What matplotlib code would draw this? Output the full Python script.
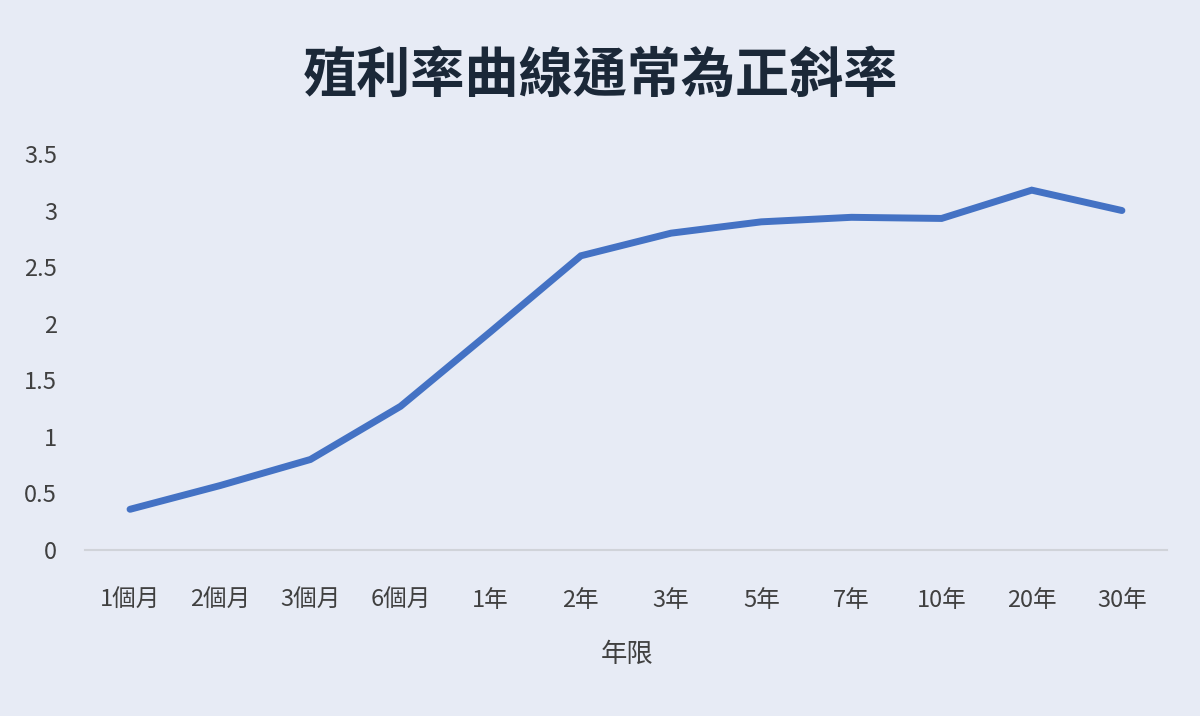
import matplotlib
matplotlib.use("Agg")
import matplotlib.pyplot as plt

plt.rcParams['font.family'] = ['Noto Sans CJK TC', 'DejaVu Sans']

categories = ["1個月", "2個月", "3個月", "6個月", "1年", "2年", "3年", "5年", "7年", "10年", "20年", "30年"]
yields = [0.36, 0.57, 0.80, 1.27, 1.93, 2.60, 2.80, 2.90, 2.94, 2.93, 3.18, 3.00]
yticks = [0, 0.5, 1, 1.5, 2, 2.5, 3, 3.5]
ytick_labels = ["0", "0.5", "1", "1.5", "2", "2.5", "3", "3.5"]
title = "殖利率曲線通常為正斜率"
xlabel = "年限"

bg = "#E7EBF5"
fig = plt.figure(figsize=(12, 7.16), dpi=100, facecolor=bg)
ax = fig.add_axes([0.0708, 0.2318, 0.9017, 0.5532])
ax.set_facecolor(bg)

x = list(range(len(categories)))
ax.plot(x, yields, color="#4472C4", linewidth=5, solid_capstyle="round", solid_joinstyle="miter")

ax.set_xlim(-0.5, len(categories) - 0.5)
ax.set_ylim(0, 3.5)
ax.set_yticks(yticks)
ax.set_yticklabels(ytick_labels)
ax.set_xticks(x)
ax.set_xticklabels(categories)

for s in ["top", "right", "left"]:
    ax.spines[s].set_visible(False)
ax.spines["bottom"].set_color("#D0D3D9")
ax.spines["bottom"].set_linewidth(1.5)
ax.tick_params(axis="both", length=0, labelsize=17, colors="#404040")
ax.tick_params(axis="x", pad=28)
ax.tick_params(axis="y", pad=20)
for lbl in ax.get_yticklabels():
    lbl.set_horizontalalignment("right")

fig.text(0.5225, 0.086, xlabel, ha="center", va="center", fontsize=19, color="#404040")
fig.text(0.5, 0.893, title, ha="center", va="center", fontsize=39, fontweight="bold", color="#1B2838")

fig.savefig("out.png", dpi=100, facecolor=bg)
